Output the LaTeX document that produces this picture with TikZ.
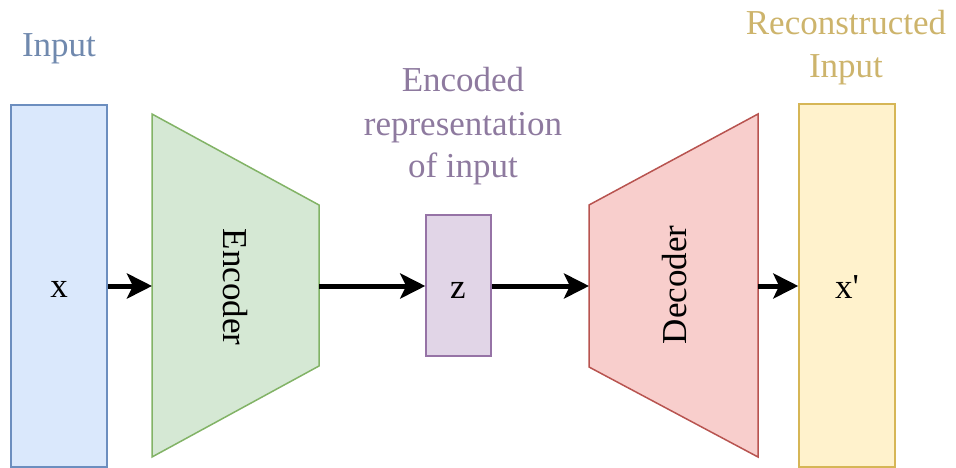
\documentclass[tikz,border=0pt]{standalone}
\usepackage{fontspec}
\setmainfont{Liberation Serif}
\usetikzlibrary{arrows.meta}

\definecolor{inFill}{HTML}{DAE8FC}
\definecolor{inLine}{HTML}{6C8EBF}
\definecolor{inText}{HTML}{7089AE}
\definecolor{encFill}{HTML}{D5E8D4}
\definecolor{encLine}{HTML}{82B366}
\definecolor{zFill}{HTML}{E1D5E7}
\definecolor{zLine}{HTML}{9673A6}
\definecolor{zText}{HTML}{8E7A9F}
\definecolor{decFill}{HTML}{F8CECC}
\definecolor{decLine}{HTML}{B85450}
\definecolor{outFill}{HTML}{FFF2CC}
\definecolor{outLine}{HTML}{D6B656}
\definecolor{outText}{HTML}{CDB46C}

\begin{document}
\begin{tikzpicture}[x=1pt, y=-1pt,
  every node/.style={font=\fontsize{35}{43}\selectfont},
  block/.style={rectangle, line width=1.5pt, inner sep=0pt},
  funnel/.style={line width=1.5pt, line join=miter},
  caption/.style={anchor=base, align=center, inner sep=0pt},
  flow/.style={line width=5pt, -{Stealth[length=25pt, width=25pt, inset=6pt]}}
]
\useasboundingbox (0,0) rectangle (956,468);

% input and output vectors, latent code
\node[block, fill=inFill, draw=inLine, minimum width=96pt, minimum height=362pt] (in) at (59,286) {};
\node[block, fill=zFill, draw=zLine, minimum width=65pt, minimum height=141pt] (z) at (458.5,285.5) {};
\node[block, fill=outFill, draw=outLine, minimum width=96pt, minimum height=363pt] (out) at (847,285.5) {};

% encoder and decoder funnels
\draw[funnel, fill=encFill, draw=encLine] (152,114) -- (319,205) -- (319,366) -- (152,457) -- cycle;
\draw[funnel, fill=decFill, draw=decLine] (589,205) -- (758,114) -- (758,457) -- (589,367) -- cycle;
\coordinate (encIn) at (152,286);
\coordinate (encOut) at (319,286);
\coordinate (decIn) at (589,286);
\coordinate (decOut) at (758,286);

% text inside the shapes
\node[caption] (xt) at (59,297) {x};
\node[caption] (zt) at (458,298) {z};
\node[caption] (xpt) at (847,298) {x\textquotesingle};
\node[rotate=-90, inner sep=0pt] (enct) at (235,287) {Encoder};
\node[rotate=90, inner sep=0pt] (dect) at (675,285) {Decoder};

% headings (anchored at the baseline of the last line)
\node[caption, text=inText] (inlab) at (59,57) {Input};
\node[caption, text=zText] (zlab) at (463,178) {Encoded\\representation\\of input};
\node[caption, text=outText] (outlab) at (846,78) {Reconstructed\\Input};

% data flow
\draw[flow] (in.east |- encIn) -- (encIn);
\draw[flow] (encOut) -- (z.west |- encOut);
\draw[flow] (z.east |- decIn) -- (decIn);
\draw[flow] (decOut) -- (out.west |- decOut);
\end{tikzpicture}
\end{document}
